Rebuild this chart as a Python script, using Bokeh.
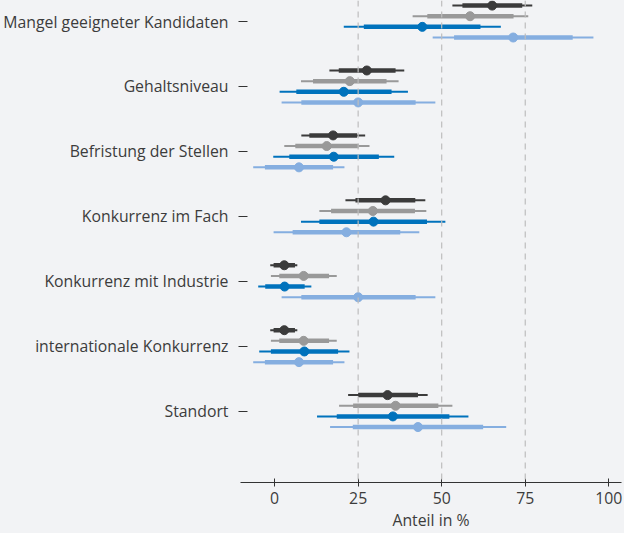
from bokeh.plotting import figure
from bokeh.models import Range1d, FixedTicker, ColumnDataSource, Span
from bokeh.embed import file_html
from bokeh.resources import INLINE

categories = ["Mangel geeigneter Kandidaten", "Gehaltsniveau", "Befristung der Stellen",
              "Konkurrenz im Fach", "Konkurrenz mit Industrie", "internationale Konkurrenz", "Standort"]

# per series: point estimate, inner interval (lo, hi), outer interval (lo, hi)
s1_est = [65.1, 27.6, 17.5, 33.2, 2.9, 2.9, 33.8]
s1_in_lo = [56.2, 19.2, 10.4, 24.2, -0.3, -0.3, 25.0]
s1_in_hi = [74.1, 36.2, 24.7, 42.1, 6.1, 6.1, 42.9]
s1_out_lo = [53.2, 16.4, 8.0, 21.2, -1.3, -1.3, 22.0]
s1_out_hi = [77.1, 38.8, 27.1, 45.1, 6.8, 6.8, 45.8]

s2_est = [58.5, 22.5, 15.6, 29.4, 8.7, 8.7, 36.2]
s2_in_lo = [45.7, 11.5, 6.2, 16.9, 1.4, 1.4, 23.5]
s2_in_hi = [71.5, 33.5, 25.2, 42.0, 16.3, 16.3, 49.0]
s2_out_lo = [41.3, 7.9, 2.9, 13.4, -1.1, -1.1, 19.3]
s2_out_hi = [75.9, 37.1, 28.4, 45.4, 18.6, 18.6, 53.2]

s3_est = [44.2, 20.7, 17.7, 29.6, 3.0, 8.9, 35.4]
s3_in_lo = [26.7, 6.5, 4.4, 13.4, -2.8, -1.1, 18.6]
s3_in_hi = [61.6, 35.0, 31.2, 45.6, 9.0, 19.0, 52.3]
s3_out_lo = [20.7, 1.5, -0.4, 7.9, -4.9, -4.6, 12.7]
s3_out_hi = [67.7, 39.9, 35.8, 51.1, 11.0, 22.4, 58.0]

s4_est = [71.4, 25.0, 7.3, 21.5, 25.0, 7.3, 42.9]
s4_in_lo = [53.7, 8.0, -2.9, 5.4, 8.0, -2.9, 23.4]
s4_in_hi = [89.2, 42.2, 17.5, 37.6, 42.2, 17.5, 62.4]
s4_out_lo = [47.3, 2.1, -6.4, -0.3, 2.1, -6.4, 16.6]
s4_out_hi = [95.4, 48.1, 20.9, 43.3, 48.1, 20.9, 69.3]

x_ticks = [0, 25, 50, 75, 100]
grid_values = [25, 50, 75]
x_label = "Anteil in %"

series = [
    (s1_est, s1_in_lo, s1_in_hi, s1_out_lo, s1_out_hi, "#3b3b3b"),
    (s2_est, s2_in_lo, s2_in_hi, s2_out_lo, s2_out_hi, "#999999"),
    (s3_est, s3_in_lo, s3_in_hi, s3_out_lo, s3_out_hi, "#0072bc"),
    (s4_est, s4_in_lo, s4_in_hi, s4_out_lo, s4_out_hi, "#85aee0"),
]
offsets = [-0.246, -0.082, 0.082, 0.246]

BG = "#f2f3f5"
TXT = "#3c3c3c"
FONT = "Open Sans"
FS = "15.8px"

p = figure(width=624, height=533, output_backend="svg", toolbar_location=None,
           x_range=Range1d(-10.2, 103.8), y_range=Range1d(7.1, -0.324),
           min_border_left=238, min_border_top=0, min_border_right=3, min_border_bottom=50)
p.background_fill_color = None
p.border_fill_color = None
p.styles = {"background-color": BG}
p.outline_line_color = None
p.grid.visible = False

for val in grid_values:
    p.add_layout(Span(location=val, dimension="height", line_color="#bdbdbd",
                      line_width=1.2, line_dash="6 5"))

for (est, ilo, ihi, olo, ohi, col), off in zip(series, offsets):
    ys = [i + off for i in range(len(categories))]
    src = ColumnDataSource(dict(y=ys, est=est, ilo=ilo, ihi=ihi, olo=olo, ohi=ohi))
    p.segment(x0="olo", x1="ohi", y0="y", y1="y", source=src, line_color=col, line_width=2)
    p.segment(x0="ilo", x1="ihi", y0="y", y1="y", source=src, line_color=col, line_width=4.5)
    p.scatter(x="est", y="y", source=src, size=9, fill_color=col, line_color=col)

# x axis
xa = p.xaxis[0]
xa.ticker = FixedTicker(ticks=x_ticks)
xa.axis_label = x_label
xa.axis_label_text_font = FONT
xa.axis_label_text_font_size = FS
xa.axis_label_text_font_style = "normal"
xa.axis_label_text_color = TXT
xa.axis_label_standoff = 2
xa.major_label_text_font = FONT
xa.major_label_text_font_size = FS
xa.major_label_text_color = TXT
xa.major_label_standoff = 5
xa.axis_line_color = "#333333"
xa.major_tick_line_color = "#333333"
xa.major_tick_in = 4
xa.major_tick_out = 4
xa.minor_tick_line_color = None

# y axis
ya = p.yaxis[0]
ya.ticker = FixedTicker(ticks=list(range(len(categories))))
ya.major_label_overrides = {i: c for i, c in enumerate(categories)}
ya.major_label_text_font = FONT
ya.major_label_text_font_size = FS
ya.major_label_text_color = TXT
ya.major_label_standoff = 10
ya.axis_line_color = None
ya.major_tick_line_color = "#333333"
ya.major_tick_in = 7
ya.major_tick_out = 2
ya.minor_tick_line_color = None

open("out.html", "w").write(file_html(p, INLINE))
